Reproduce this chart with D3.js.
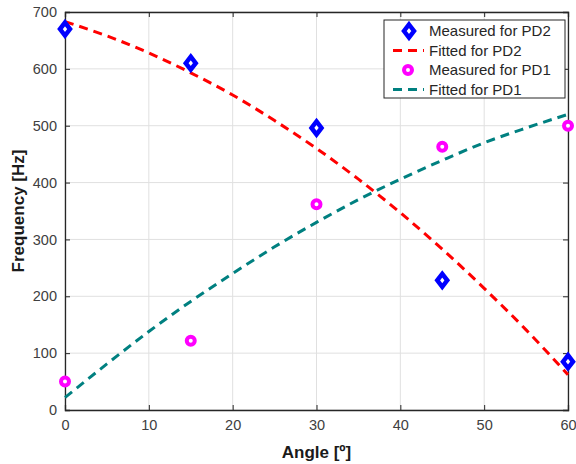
<!DOCTYPE html>
<html><head><meta charset="utf-8">
<script src="https://cdn.jsdelivr.net/npm/d3@7"></script>
<style>body{margin:0;background:#fff;}svg{display:block;font-family:"Liberation Sans",Arial,sans-serif;}</style>
</head><body>
<svg id="c" width="576" height="464"></svg>
<script>
const xTicks = [0,10,20,30,40,50,60];
const yTicks = [0,100,200,300,400,500,600,700];
const measAngles = [0,15,30,45,60];
const measPD2 = [670,610,496,228,85];
const measPD1 = [50,122,362,463,500];
const fitAngles = [0,5,10,15,20,25,30,35,40,45,50,55,60];
const fitPD2 = [683,658,628,593,554,509,460,406,347,283,214,141,62];
const fitPD1 = [22,81,138,191,240,287,330,370,406,439,470,496,520];
const legendLabels = ["Measured for PD2","Fitted for PD2","Measured for PD1","Fitted for PD1"];

const svg = d3.select("#c");
const L=65, R=568, T=12, B=410;
const x = d3.scaleLinear().domain([0,60]).range([L,R]);
const y = d3.scaleLinear().domain([0,700]).range([B,T]);
const axisCol="#262626", labCol="#404040";

// grid
const g = svg.append("g");
g.selectAll(".gx").data(xTicks).enter().append("line")
 .attr("x1",d=>x(d)).attr("x2",d=>x(d)).attr("y1",T).attr("y2",B)
 .attr("stroke","#e0e0e0").attr("stroke-width",1);
g.selectAll(".gy").data(yTicks).enter().append("line")
 .attr("x1",L).attr("x2",R).attr("y1",d=>y(d)).attr("y2",d=>y(d))
 .attr("stroke","#e0e0e0").attr("stroke-width",1);

// axes
const xa = svg.append("g").attr("transform",`translate(0,${B})`)
 .call(d3.axisBottom(x).tickValues(xTicks).tickSize(-5).tickPadding(10));
const xt = svg.append("g").attr("transform",`translate(0,${T})`)
 .call(d3.axisTop(x).tickValues(xTicks).tickSize(-5).tickFormat(""));
const ya = svg.append("g").attr("transform",`translate(${L},0)`)
 .call(d3.axisLeft(y).tickValues(yTicks).tickSize(-5).tickPadding(8));
const yr = svg.append("g").attr("transform",`translate(${R},0)`)
 .call(d3.axisRight(y).tickValues(yTicks).tickSize(-5).tickFormat(""));
[xa,xt,ya,yr].forEach(a=>{
  a.selectAll("path").attr("stroke",axisCol).attr("stroke-width",1.3);
  a.selectAll("line").attr("stroke",axisCol);
  a.selectAll("text").attr("fill",labCol).style("font-size","14.5px");
});

// fitted lines
const line = d3.line().x(d=>x(d[0])).y(d=>y(d[1])).curve(d3.curveMonotoneX);
svg.append("path").datum(fitAngles.map((a,i)=>[a,fitPD2[i]]))
 .attr("d",line).attr("fill","none").attr("stroke","#ff0000").attr("stroke-width",3).attr("stroke-dasharray","9,6");
svg.append("path").datum(fitAngles.map((a,i)=>[a,fitPD1[i]]))
 .attr("d",line).attr("fill","none").attr("stroke","#008080").attr("stroke-width",3).attr("stroke-dasharray","9,6");

// markers
const diamond = (cx,cy)=>`M${cx},${cy-6.5}L${cx+5},${cy}L${cx},${cy+6.5}L${cx-5},${cy}Z`;
svg.selectAll(".d").data(measAngles.map((a,i)=>[a,measPD2[i]])).enter().append("path")
 .attr("d",d=>diamond(x(d[0]),y(d[1]))).attr("fill","#fff").attr("stroke","#0000ff").attr("stroke-width",4.5).attr("stroke-linejoin","miter");
svg.selectAll(".o").data(measAngles.map((a,i)=>[a,measPD1[i]])).enter().append("circle")
 .attr("cx",d=>x(d[0])).attr("cy",d=>y(d[1])).attr("r",4)
 .attr("fill","#fff").attr("stroke","#ff00ff").attr("stroke-width",4);

// axis labels
svg.append("text").attr("x",(L+R)/2).attr("y",458).attr("text-anchor","middle")
 .attr("font-weight","bold").attr("font-size","17px").attr("fill","#1a1a1a").text("Angle [º]");
svg.append("text").attr("transform",`translate(24,${(T+B)/2}) rotate(-90)`).attr("text-anchor","middle")
 .attr("font-weight","bold").attr("font-size","17px").attr("fill","#1a1a1a").text("Frequency [Hz]");

// legend
const lg = svg.append("g");
lg.append("rect").attr("x",384).attr("y",20).attr("width",181).attr("height",78)
 .attr("fill","#fff").attr("stroke","#262626").attr("stroke-width",1);
const rows=[31,50.5,70,89.5];
lg.append("path").attr("d",diamond(409,rows[0])).attr("fill","#fff").attr("stroke","#0000ff").attr("stroke-width",4.5);
lg.append("line").attr("x1",393).attr("x2",424).attr("y1",rows[1]).attr("y2",rows[1])
 .attr("stroke","#ff0000").attr("stroke-width",3).attr("stroke-dasharray","9,6");
lg.append("circle").attr("cx",408).attr("cy",rows[2]).attr("r",4).attr("fill","#fff").attr("stroke","#ff00ff").attr("stroke-width",4);
lg.append("line").attr("x1",393).attr("x2",424).attr("y1",rows[3]).attr("y2",rows[3])
 .attr("stroke","#008080").attr("stroke-width",3).attr("stroke-dasharray","9,6");
legendLabels.forEach((t,i)=>{
  lg.append("text").attr("x",429).attr("y",rows[i]+5).attr("font-size","15px").attr("fill","#262626").text(t);
});
</script>
</body></html>
